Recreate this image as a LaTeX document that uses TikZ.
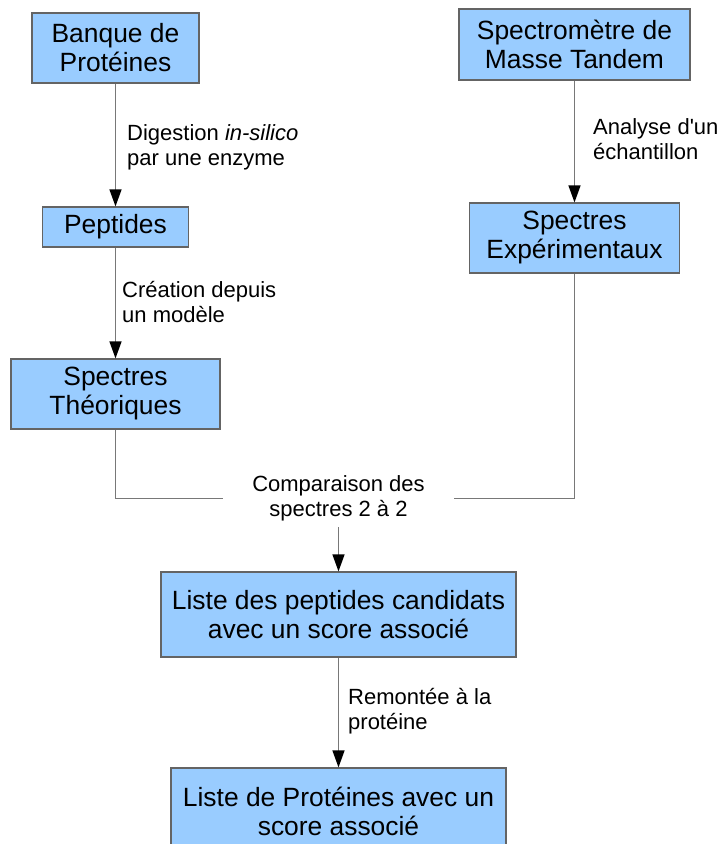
\documentclass[tikz,border=0pt]{standalone}
\usepackage{fontspec}
\setmainfont{Liberation Sans}
\usetikzlibrary{arrows.meta}
\definecolor{boxfill}{RGB}{153,204,255}
\definecolor{boxline}{RGB}{100,100,100}
\definecolor{conn}{RGB}{120,120,120}
\tikzset{
  box/.style={draw=boxline, line width=1.2pt, fill=boxfill, align=center,
    font=\fontsize{26.4}{29}\selectfont, inner sep=0pt},
  lbl/.style={align=left, font=\fontsize{22}{25}\selectfont, inner sep=0pt, anchor=west},
  conline/.style={draw=conn, line width=1.3pt},
  arr/.style={conline, -{Triangle[length=17pt,width=12pt,color=black]}}
}
\begin{document}
\begin{tikzpicture}[x=1pt,y=-1pt]
\useasboundingbox (0,0) rectangle (721,844);
% boxes
\node[box, minimum width=167, minimum height=70] (bank) at (115.5,48) {Banque de\\Protéines};
\node[box, minimum width=146, minimum height=40] (pep) at (115.5,227) {Peptides};
\node[box, minimum width=209, minimum height=70] (theo) at (115.5,394) {Spectres\\Théoriques};
\node[box, minimum width=231, minimum height=71] (spec) at (574.5,44.5) {Spectromètre de\\Masse Tandem};
\node[box, minimum width=210, minimum height=70] (exp) at (574.5,238) {Spectres\\Expérimentaux};
\node[box, minimum width=355, minimum height=85] (cand) at (338.5,614.5) {Liste des peptides candidats\\avec un score associé};
\node[box, minimum width=335, minimum height=87] (prot) at (338.5,811.5) {Liste de Protéines avec un\\score associé};
% comparison label node
\node[align=center, font=\fontsize{22}{25}\selectfont, inner sep=0pt,
  minimum width=230, minimum height=57] (comp) at (338.5,498.5) {Comparaison des\\spectres 2 à 2};
% labels
\node[lbl] (dig) at (127,147.5) {Digestion \textit{in-silico}\\par une enzyme};
\node[lbl] (crea) at (122,302) {Création depuis\\un modèle};
\node[lbl] (ana) at (593,139) {Analyse d\textquotesingle un\\échantillon};
\node[lbl] (rem) at (348,711.5) {Remontée à la\\protéine};
% connectors
\draw[arr] (bank.south) -- (pep.north);
\draw[arr] (pep.south) -- (theo.north);
\draw[arr] (spec.south) -- (exp.north);
\draw[conline] (theo.south) |- (comp.west);
\draw[conline] (exp.south) |- (comp.east);
\draw[arr] (comp.south) -- (cand.north);
\draw[arr] (cand.south) -- (prot.north);
\end{tikzpicture}
\end{document}
